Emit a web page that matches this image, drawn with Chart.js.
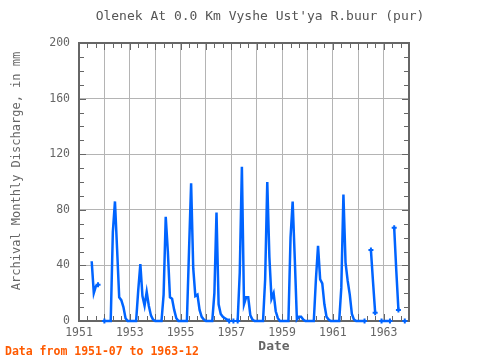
<!DOCTYPE html>
<html>
<head>
<meta charset="utf-8">
<script src="https://cdn.jsdelivr.net/npm/chart.js@4.4.0/dist/chart.umd.min.js"></script>
<style>
  html, body { margin: 0; padding: 0; background: #ffffff; }
  #wrap { width: 480px; height: 360px; }
</style>
</head>
<body>
<div id="wrap"><canvas id="chart" width="480" height="360"></canvas></div>
<script>
// monthly series, starts 1951-07, null = missing month
const firstYear = 1951;
const firstMonth = 7;
const discharge = [
    43, 20, 25, 26, null, null,                       // 1951 Jul-Dec
    0, 0, 0, 0, 64, 86, 52, 17, 15, 10, 2, 0,         // 1952
    0, 0, 0, 0, 22, 41, 18, 11, 21, 11, 4, 1,         // 1953
    0, 0, 0, 0, 19, 75, 50, 17, 16, 8, 2, 0,          // 1954
    0, 0, 0, 0, 50, 99, 38, 18, 19, 8, 3, 1,          // 1955
    0, 0, 0, 0, 20, 78, 12, 5, 3, 2, 1, 0,            // 1956
    null, 0, null, 0, 35, 111, 12, 17, 17, 4, 1, 0,   // 1957
    0, 0, 0, 0, 30, 100, 46, 16, 20, 7, 2, 0,         // 1958
    0, 0, 0, 0, 60, 86, 45, 1, 3, 3, 1, 0,            // 1959
    0, 0, 0, 0, 30, 54, 30, 27, 12, 3, 1, 0,          // 1960
    0, 0, 0, 0, 24, 91, 42, 29, 19, 5, 1, 0,          // 1961
    0, 0, 0, 0, null, null, 51, 28, 6, null, null, 0, // 1962
    0, 0, 0, 0, null, 67, 36, 8, null, null, 0, null  // 1963
];

const yearTicks = [1951, 1952, 1953, 1954, 1955, 1956, 1957, 1958, 1959, 1960, 1961, 1962, 1963, 1964];
const yearLabels = [1951, 1953, 1955, 1957, 1959, 1961, 1963];
const valueTicks = [0, 40, 80, 120, 160, 200];

const points = discharge.map((v, i) => ({
    x: firstYear + (firstMonth - 1 + i) / 12,
    y: v
}));

const monoFont = "'DejaVu Sans Mono', 'Liberation Mono', monospace";
const frameColor = '#666666';
const textColor = '#666666';

// frame and small inward ticks go under the line, texts on top
const decorPlugin = {
    id: 'decor',
    beforeDatasetsDraw(chart) {
        const ctx = chart.ctx;
        const a = chart.chartArea;
        const xs = chart.scales.x;
        const ys = chart.scales.y;
        ctx.save();

        ctx.strokeStyle = frameColor;
        ctx.lineWidth = 1;
        ctx.beginPath();
        // minor ticks every 4 months on x
        for (let m = 0; m <= 13 * 12; m += 4) {
            const px = Math.round(xs.getPixelForValue(1951 + m / 12)) + 0.5;
            const len = m % 12 === 0 ? 7 : 5;
            ctx.moveTo(px, a.bottom); ctx.lineTo(px, a.bottom - len);
            ctx.moveTo(px, a.top); ctx.lineTo(px, a.top + len);
        }
        // minor ticks every 10 on y
        for (let v = 0; v <= 200; v += 10) {
            const py = Math.round(ys.getPixelForValue(v)) + 0.5;
            const len = v % 40 === 0 ? 7 : 5;
            ctx.moveTo(a.left, py); ctx.lineTo(a.left + len, py);
            ctx.moveTo(a.right, py); ctx.lineTo(a.right - len, py);
        }
        ctx.stroke();

        ctx.lineWidth = 2;
        ctx.strokeRect(a.left, a.top, a.right - a.left, a.bottom - a.top);
        ctx.restore();
    },
    afterDraw(chart) {
        const ctx = chart.ctx;
        ctx.save();
        ctx.fillStyle = '#555555';
        ctx.textAlign = 'center';
        ctx.textBaseline = 'middle';
        ctx.font = '13px ' + monoFont;
        ctx.fillText("Olenek At 0.0 Km Vyshe Ust'ya R.buur (pur)", 260, 17);

        ctx.font = 'bold 13px ' + monoFont;
        ctx.fillStyle = textColor;
        ctx.fillText('Date', 274, 347);

        ctx.save();
        ctx.translate(17, 171);
        ctx.rotate(-Math.PI / 2);
        ctx.font = '12px ' + monoFont;
        ctx.fillText('Archival Monthly Discharge, in mm', 0, 0);
        ctx.restore();

        ctx.textAlign = 'left';
        ctx.font = 'bold 11.5px ' + monoFont;
        ctx.fillStyle = '#ff5a00';
        ctx.fillText('Data from 1951-07 to 1963-12', 5, 352);

        ctx.restore();
    }
};

const ctx = document.getElementById('chart');

new Chart(ctx, {
    type: 'line',
    data: {
        datasets: [{
            data: points,
            borderColor: '#0064ff',
            backgroundColor: '#0064ff',
            borderWidth: 2.5,
            spanGaps: false,
            tension: 0,
            clip: 4,
            pointStyle: 'cross',
            pointBorderWidth: 2,
            pointRadius: (c) => {
                const i = c.dataIndex;
                if (discharge[i] == null) return 0;
                const edge = discharge[i - 1] == null || discharge[i + 1] == null;
                return edge && i > 0 ? 2.5 : 0;
            },
            pointHoverRadius: 0
        }]
    },
    options: {
        responsive: false,
        animation: false,
        layout: {
            padding: { top: 43, right: 71, bottom: 0, left: 0 }
        },
        plugins: {
            legend: { display: false },
            tooltip: { enabled: false },
            title: { display: false }
        },
        scales: {
            x: {
                type: 'linear',
                min: 1951,
                max: 1964,
                afterFit: (s) => { s.height = 39; },
                afterBuildTicks: (s) => { s.ticks = yearTicks.map(v => ({ value: v })); },
                ticks: {
                    autoSkip: false,
                    maxRotation: 0,
                    padding: 5,
                    color: textColor,
                    font: { family: monoFont, size: 11.5 },
                    callback: (v) => yearLabels.includes(v) ? String(v) : ''
                },
                grid: {
                    color: '#b4b4b4',
                    lineWidth: 1,
                    drawTicks: false
                },
                border: { display: false }
            },
            y: {
                min: 0,
                max: 200,
                afterFit: (s) => { s.width = 79; },
                afterBuildTicks: (s) => { s.ticks = valueTicks.map(v => ({ value: v })); },
                ticks: {
                    padding: 9,
                    color: textColor,
                    font: { family: monoFont, size: 11.5 }
                },
                grid: {
                    color: '#b4b4b4',
                    lineWidth: 1,
                    drawTicks: false
                },
                border: { display: false }
            }
        }
    },
    plugins: [decorPlugin]
});
</script>
</body>
</html>
